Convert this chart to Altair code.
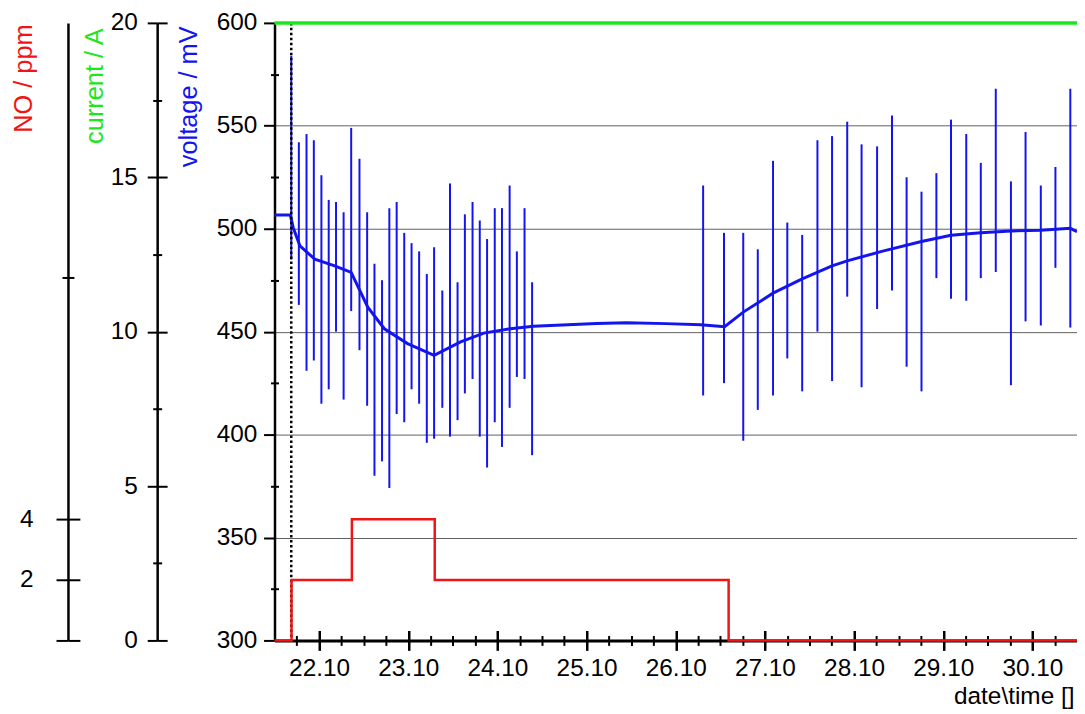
import altair as alt
import pandas as pd

# ---------------- data ----------------
# voltage spikes (day of October, spike top / bottom in mV)
spike_day = [21.688, 21.773, 21.859, 21.941, 22.026, 22.108, 22.190, 22.275, 22.360,
             22.453, 22.539, 22.621, 22.706, 22.788, 22.870, 22.955, 23.037, 23.122,
             23.208, 23.290, 23.382, 23.468, 23.553, 23.635, 23.721, 23.802, 23.884,
             23.970, 24.051, 24.137, 24.218, 24.304, 24.389,
             26.307, 26.541, 26.757, 26.920, 27.091, 27.251, 27.418, 27.589, 27.753,
             27.923, 28.084, 28.258, 28.425, 28.589, 28.756, 28.923, 29.087, 29.258,
             29.421, 29.589, 29.759, 29.923, 30.094, 30.258, 30.425]
spike_top = [584, 542, 546, 543, 526, 514, 513, 508, 549,
             534, 508, 483, 475, 510, 513, 498, 493, 489,
             478, 491, 470, 522, 474, 507, 513, 504, 495,
             510, 510, 521, 489, 510, 474,
             521, 498, 498, 490, 533, 503, 497, 543, 545,
             552, 541, 540, 555, 525, 518, 527, 553, 546,
             532, 568, 523, 547, 521, 530, 568]
spike_bottom = [485, 463, 431, 436, 415, 422, 450, 417, 460,
                441, 414, 380, 387, 374, 410, 406, 422, 415,
                396, 398, 413, 399, 407, 420, 427, 399, 384,
                406, 394, 413, 428, 427, 390,
                419, 425, 397, 412, 419, 437, 421, 450, 426,
                467, 423, 461, 470, 433, 421, 476, 466, 465,
                476, 479, 424, 455, 453, 481, 452]

# voltage base line
base_day = [21.50, 21.677, 21.710, 21.785, 21.952, 22.175, 22.360, 22.546, 22.732,
            22.992, 23.290, 23.587, 23.847, 24.144, 24.405, 25.110, 25.445, 25.891,
            26.281, 26.548, 26.757, 27.091, 27.418, 27.753, 27.923, 28.310, 28.756,
            29.087, 29.421, 29.759, 30.094, 30.425, 30.50]
base_mv = [506.7, 506.7, 500.5, 491.7, 485.2, 482.0, 478.8, 461.9, 451.4,
           444.2, 438.5, 445.0, 449.3, 451.4, 452.6, 454.0, 454.3, 453.9,
           453.4, 452.4, 459.5, 468.7, 475.6, 482.0, 484.4, 489.0, 493.8,
           496.8, 498.1, 498.9, 499.3, 500.2, 498.6]

# NO concentration (step)
no_day = [21.50, 21.691, 22.368, 23.297, 26.593, 30.50]
no_ppm = [0, 2, 4, 2, 0, 0]

# current
cur_day = [21.50, 30.50]
cur_amp = [20, 20]

# start marker (dotted line)
start_day = [21.688]

# tick values
x_ticks = [22, 23, 24, 25, 26, 27, 28, 29, 30]
x_minor_ticks = [21.75] + [d + q for d in range(22, 31) for q in (0.25, 0.5, 0.75) if d + q < 30.5]
v_ticks = [300, 350, 400, 450, 500, 550, 600]
v_minor_ticks = [325, 375, 425, 475, 525, 575]
c_ticks = [0, 5, 10, 15, 20]
c_minor_ticks = [2.5, 7.5, 12.5, 17.5]
n_ticks = [0, 2, 4]
n_minor_ticks = [12]

# ---------------- style ----------------
FONT = "Liberation Sans"
FS = 24.5
TFS = 25.5
BLUE = "#1414ee"
GREEN = "#1ee61e"
RED = "#f01414"
XDOM = [21.5, 30.5]
VDOM = [300, 600]
CDOM = [0, 20]
NDOM = [0, 20.4]
W, H = 807, 621

spikes = pd.DataFrame({"day": spike_day, "top": spike_top, "bottom": spike_bottom})
base = pd.DataFrame({"day": base_day, "mv": base_mv})
no = pd.DataFrame({"day": no_day, "ppm": no_ppm})
cur = pd.DataFrame({"day": cur_day, "amp": cur_amp})
start = pd.DataFrame({"day": start_day})


def xs():
    return alt.Scale(domain=XDOM, nice=False, zero=False)


def ys(dom):
    return alt.Scale(domain=dom, nice=False, zero=False)


def ghost(df, field, dom, xaxis=None, yaxis=None):
    return alt.Chart(df).mark_point(opacity=0).encode(
        x=alt.X("day:Q", scale=xs(), axis=xaxis),
        y=alt.Y(f"{field}:Q", scale=ys(dom), axis=yaxis),
    )


def tick_axis(orient, values, offset, size, width=2):
    return alt.Axis(orient=orient, values=values, offset=offset, tickSize=size,
                    tickWidth=width, tickColor="black", domain=False, labels=False,
                    grid=False, title=None)


x_main = alt.Axis(orient="bottom", values=x_ticks,
                  labelExpr="format(datum.value, 'd') + '.10'",
                  ticks=True, tickSize=0, labelPadding=35, labelBaseline="alphabetic",
                  labelFlush=False, labelOverlap=False,
                  domain=True, domainColor="black", domainWidth=3, grid=False,
                  title="date\\time []", titleX=804, titleY=63, titleAlign="right",
                  titleBaseline="alphabetic", titleAngle=0, titleColor="black",
                  titleFontSize=FS)

v_main = alt.Axis(orient="left", values=v_ticks, tickSize=11, tickWidth=2,
                  domain=True, domainWidth=2.5, labelPadding=6.7,
                  grid=True, gridColor="#606060", gridWidth=1,
                  title="voltage / mV", titleColor=BLUE, titleAngle=270,
                  titleAlign="right", titleBaseline="alphabetic", titleX=-78, titleY=3)

c_main = alt.Axis(orient="left", values=c_ticks, offset=118, tickSize=10, tickWidth=2,
                  domain=True, domainWidth=2.5, labelPadding=10, grid=False,
                  title="current / A", titleColor=GREEN, titleAngle=270,
                  titleAlign="right", titleBaseline="alphabetic", titleX=-55, titleY=5)

n_main = alt.Axis(orient="left", values=n_ticks, offset=207.7, tickSize=12, tickWidth=2,
                  labelExpr="datum.value == 0 ? '' : datum.label",
                  domain=True, domainWidth=2.5, labelPadding=23, grid=False,
                  title="NO / ppm", titleColor=RED, titleAngle=270,
                  titleAlign="right", titleBaseline="alphabetic", titleX=-36.5, titleY=1)

layers = [
    ghost(base, "mv", VDOM, xaxis=x_main, yaxis=v_main),
    ghost(base, "mv", VDOM, xaxis=tick_axis("bottom", x_ticks, -10, 20, 2.5),
          yaxis=tick_axis("left", v_minor_ticks, -4, 8)),
    ghost(cur, "amp", CDOM, xaxis=tick_axis("bottom", x_minor_ticks, -5, 10), yaxis=c_main),
    ghost(cur, "amp", CDOM, yaxis=tick_axis("left", c_ticks, 108, 10)),
    ghost(cur, "amp", CDOM, yaxis=tick_axis("left", c_minor_ticks, 113.5, 9)),
    ghost(no, "ppm", NDOM, yaxis=n_main),
    ghost(no, "ppm", NDOM, yaxis=tick_axis("left", n_ticks, 195.7, 12)),
    ghost(no, "ppm", NDOM, yaxis=tick_axis("left", n_minor_ticks, 201.7, 12)),
    # data marks
    alt.Chart(spikes).mark_rule(color=BLUE, strokeWidth=2).encode(
        x=alt.X("day:Q", scale=xs(), axis=None),
        y=alt.Y("top:Q", scale=ys(VDOM), axis=None),
        y2="bottom:Q"),
    alt.Chart(base).mark_line(color=BLUE, strokeWidth=3).encode(
        x=alt.X("day:Q", scale=xs(), axis=None),
        y=alt.Y("mv:Q", scale=ys(VDOM), axis=None)),
    alt.Chart(start).mark_rule(color="black", strokeDash=[2.5, 2.5], strokeWidth=2.5).encode(
        x=alt.X("day:Q", scale=xs(), axis=None)),
    alt.Chart(no).mark_line(color=RED, strokeWidth=2.5, interpolate="step-after").encode(
        x=alt.X("day:Q", scale=xs(), axis=None),
        y=alt.Y("ppm:Q", scale=ys(NDOM), axis=None)),
    alt.Chart(cur).mark_line(color=GREEN, strokeWidth=3.5).encode(
        x=alt.X("day:Q", scale=xs(), axis=None),
        y=alt.Y("amp:Q", scale=ys(CDOM), axis=None)),
]

chart = alt.layer(*layers).resolve_scale(x="independent", y="independent").properties(
    width=W, height=H,
    autosize=alt.AutoSizeParams(type="none"),
    padding={"left": 268, "top": 13, "right": 0, "bottom": 70},
    background="white",
).configure_view(stroke="transparent").configure_axis(
    labelFont=FONT, labelFontSize=FS, labelColor="black",
    titleFont=FONT, titleFontSize=TFS, titleFontWeight="normal",
    tickColor="black", domainColor="black",
)

chart.save("out.html", embed_options={"renderer": "svg", "actions": False})
